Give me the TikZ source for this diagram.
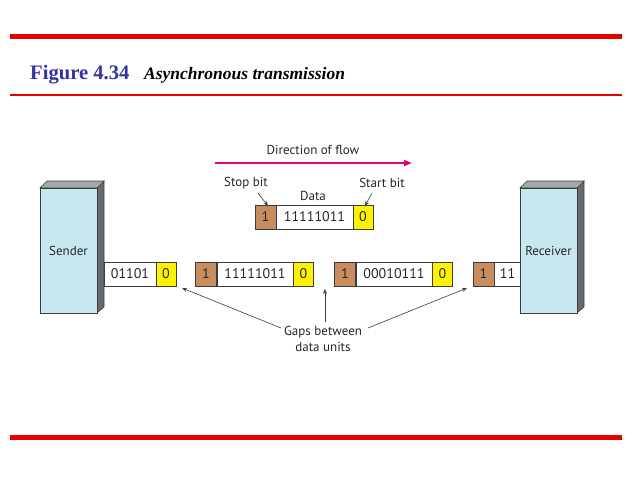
\documentclass[tikz,border=0pt]{standalone}
\usepackage{fontspec}
\setmainfont{Liberation Serif}
\newfontfamily\lblfont{PT Sans}
\usetikzlibrary{arrows.meta}
\definecolor{barred}{RGB}{230,0,0}
\definecolor{titleblue}{RGB}{51,51,160}
\definecolor{boxblue}{RGB}{200,232,240}
\definecolor{sidegray}{RGB}{105,106,110}
\definecolor{topgray}{RGB}{165,167,170}
\definecolor{brownbit}{RGB}{200,140,95}
\definecolor{yellowbit}{RGB}{255,242,0}
\definecolor{edge}{RGB}{60,60,60}
\definecolor{flowpink}{RGB}{230,0,126}
\tikzset{
  cell/.style={draw=edge, line width=0.6pt, minimum height=24pt, inner sep=0pt,
    font=\lblfont\fontsize{14}{14}\selectfont, text=black!85},
  whitecell/.style={cell, fill=white},
  browncell/.style={cell, fill=brownbit, minimum width=21pt},
  yellowcell/.style={cell, fill=yellowbit, minimum width=20pt},
  lbl/.style={font=\lblfont\fontsize{13}{15}\selectfont, text=black!85, inner sep=0pt},
  pointer/.style={draw=edge, line width=0.6pt, -{Stealth[length=5pt,width=4pt]}},
  front/.style={draw=edge, line width=0.6pt, fill=boxblue},
  sideface/.style={draw=edge, line width=0.6pt, fill=sidegray},
  topface/.style={draw=edge, line width=0.6pt, fill=topgray}
}
\begin{document}
\begin{tikzpicture}[x=1pt,y=-1pt]
\useasboundingbox (0,0) rectangle (638,479);
% frame lines
\draw[barred, line width=5pt] (10,36.5) -- (622,36.5);
\draw[barred, line width=1.5pt] (10,95) -- (622,95);
\draw[barred, line width=5pt] (10,437) -- (622,437);
% title
\node[anchor=base west, inner sep=0pt, text=titleblue, font=\fontsize{20.6}{20}\selectfont\bfseries] (fig) at (30,79) {Figure 4.34};
\node[anchor=base west, inner sep=0pt, font=\fontsize{17.5}{17}\selectfont\bfseries\itshape] (ttl) at (144,79) {Asynchronous transmission};
% direction of flow
\node[lbl] (dir) at (313,150) {Direction of flow};
\coordinate (f1) at (215,163);
\coordinate (f2) at (412,163);
\draw[flowpink, line width=1.5pt, -{Triangle[length=8pt,width=6pt]}] (f1) -- (f2);
% top frame
\node[browncell] (tb) at (265.5,217) {1};
\node[whitecell, minimum width=77pt] (tw) at (314.5,217) {11111011};
\node[yellowcell] (ty) at (363,217) {0};
\node[lbl] (stop) at (246,183) {Stop bit};
\node[lbl] (start) at (382,183) {Start bit};
\node[lbl] (data) at (313,196) {Data};
\coordinate (sa) at (268,206);
\coordinate (ta) at (365,206);
\draw[pointer] (258,193) -- (sa);
\draw[pointer] (372,193) -- (ta);
% line frames
\node[whitecell, minimum width=52pt] (s0w) at (130,274) {01101};
\node[yellowcell] (s0y) at (166,274) {0};
\node[browncell] (m1b) at (206,274) {1};
\node[whitecell, minimum width=76pt] (m1w) at (255,274) {11111011};
\node[yellowcell] (m1y) at (303.5,274) {0};
\node[browncell] (m2b) at (345,274) {1};
\node[whitecell, minimum width=76pt] (m2w) at (394,274) {00010111};
\node[yellowcell] (m2y) at (442.5,274) {0};
\node[browncell] (rb) at (483.5,274) {1};
\node[whitecell, minimum width=27pt] (rw) at (507.5,274) {11};
% sender
\draw[sideface] (97,188) -- (104,181) -- (104,307) -- (97,313) -- cycle;
\draw[topface] (40,188) -- (47,181) -- (104,181) -- (97,188) -- cycle;
\node[front, minimum width=57pt, minimum height=125pt, inner sep=0pt] (sender) at (68.5,250.5) {};
\node[lbl] (sl) at (sender.center) {Sender};
% receiver
\draw[sideface] (577,188) -- (584,181) -- (584,307) -- (577,313) -- cycle;
\draw[topface] (520,188) -- (527,181) -- (584,181) -- (577,188) -- cycle;
\node[front, minimum width=57pt, minimum height=125pt, inner sep=0pt] (receiver) at (548.5,250.5) {};
\node[lbl] (rl) at (receiver.center) {Receiver};
% gaps
\node[lbl, align=center, font=\lblfont\fontsize{13}{15.5}\selectfont] (gaps) at (323,339) {Gaps between\\data units};
\coordinate (g1) at (182,288);
\coordinate (g2) at (325,289);
\coordinate (g3) at (467,288);
\draw[pointer] (281,328) -- (g1);
\draw[pointer] (325,322) -- (g2);
\draw[pointer] (368,328) -- (g3);
\end{tikzpicture}
\end{document}
